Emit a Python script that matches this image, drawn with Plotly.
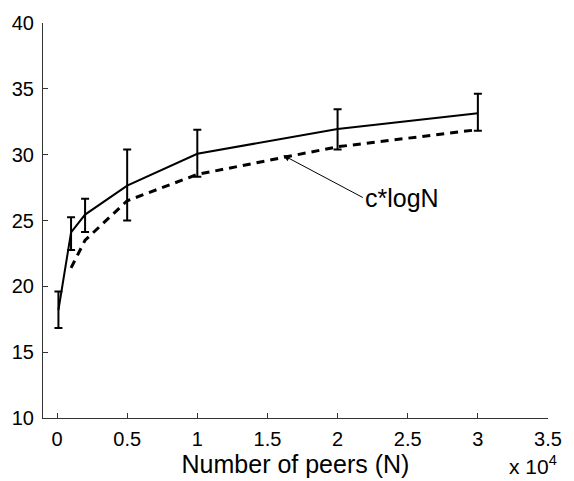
import plotly.graph_objects as go

# Measured path lengths vs. network size
peers = [100, 1000, 2000, 5000, 10000, 20000, 30000]
mean_hops = [18.2, 24.1, 25.45, 27.65, 30.07, 31.95, 33.15]
upper_hops = [19.6, 25.25, 26.65, 30.4, 31.9, 33.45, 34.62]
lower_hops = [16.84, 22.76, 24.13, 25.0, 28.33, 30.4, 31.82]

# Reference curve c*logN
ref_peers = [1000, 2000, 5000, 10000, 20000, 30000]
ref_hops = [21.4, 23.5, 26.5, 28.5, 30.6, 31.9]

x_ticks = [0, 5000, 10000, 15000, 20000, 25000, 30000, 35000]
x_tick_text = ["0", "0.5", "1", "1.5", "2", "2.5", "3", "3.5"]
y_ticks = [10, 15, 20, 25, 30, 35, 40]

err_plus = [u - m for u, m in zip(upper_hops, mean_hops)]
err_minus = [m - l for m, l in zip(mean_hops, lower_hops)]

FONT = "Liberation Sans, Arial, Helvetica, sans-serif"

fig = go.Figure()

fig.add_trace(go.Scatter(
    x=ref_peers, y=ref_hops, mode="lines",
    line=dict(color="black", width=3, dash="8px,6px"),
    showlegend=False, hoverinfo="skip",
))

fig.add_trace(go.Scatter(
    x=peers, y=mean_hops, mode="lines",
    line=dict(color="black", width=2),
    error_y=dict(type="data", symmetric=False, array=err_plus,
                 arrayminus=err_minus, color="black", thickness=2, width=4),
    showlegend=False,
))

axis_common = dict(
    showline=True, linecolor="#333", linewidth=1,
    ticks="inside", ticklen=5, tickcolor="#333", tickwidth=1,
    showgrid=False, zeroline=False, mirror=False,
    tickfont=dict(family=FONT, size=20, color="black"),
)

fig.update_xaxes(
    range=[-1000, 35000], tickmode="array", tickvals=x_ticks, ticktext=x_tick_text,
    title=dict(text="Number of peers (N)", font=dict(family=FONT, size=25, color="black"),
               standoff=0),
    ticklabelstandoff=3,
    **axis_common,
)
fig.update_yaxes(
    range=[10, 40], tickmode="array", tickvals=y_ticks,
    ticklabelstandoff=4,
    **axis_common,
)

# Arrow pointing at the c*logN curve
fig.add_annotation(
    x=16130, y=29.95, xref="x", yref="y",
    ax=81, ay=43, axref="pixel", ayref="pixel",
    text="", showarrow=True, arrowhead=2, arrowsize=1.3, arrowwidth=1,
    arrowcolor="black",
)
fig.add_annotation(
    x=21830, y=26.7, xref="x", yref="y", text="c*logN", showarrow=False,
    xanchor="left", yanchor="middle",
    font=dict(family=FONT, size=25, color="black"),
)
# Axis exponent label
fig.add_annotation(
    x=1.022, y=-0.08, xref="paper", yref="paper", text="x 10<sup>4</sup>",
    showarrow=False, xanchor="right", yanchor="top",
    font=dict(family=FONT, size=21, color="black"),
)

fig.update_layout(
    width=574, height=481,
    margin=dict(l=42, r=18, t=18, b=63),
    paper_bgcolor="white", plot_bgcolor="white",
)

fig.write_html("out.html")
